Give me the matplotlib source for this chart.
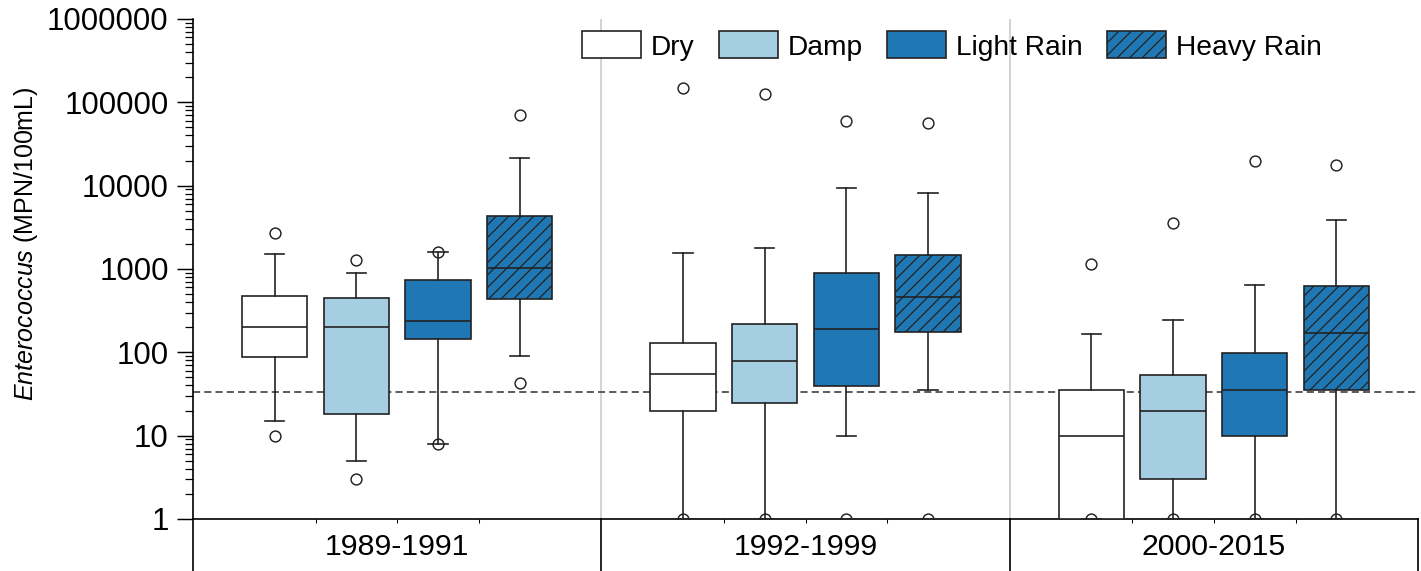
import matplotlib
matplotlib.use("Agg")
import matplotlib.pyplot as plt
from matplotlib.patches import Patch
from matplotlib.ticker import LogLocator, FuncFormatter, FixedLocator, NullFormatter
import matplotlib.transforms as mtransforms

# ── DATA (MPN/100mL) ──────────────────────────────────────

periods = ["1989-1991", "1992-1999", "2000-2015"]
conditions = ["Dry", "Damp", "Light Rain", "Heavy Rain"]

# one row per period, one column per condition
whisker_low = [[15, 5, 8, 90], [1, 1, 10, 35], [1, 1, 1, 1]]
q1 = [[88, 18, 143, 433], [20, 25, 39, 177], [1, 3, 10, 35]]
median = [[203, 200, 238, 1020], [55, 79, 190, 458], [10, 20, 35, 170]]
q3 = [[470, 453, 738, 4360], [131, 217, 888, 1485], [35, 54, 99, 630]]
whisker_high = [[1500, 890, 1600, 21500], [1540, 1800, 9400, 8100], [165, 244, 650, 3900]]
outliers = [
    [[10, 2700], [3, 1270], [8, 1600], [43, 70500]],
    [[1, 150000], [1, 126000], [1, 60000], [1, 56000]],
    [[1, 1150], [1, 3600], [1, 20000], [1, 17700]],
]

standard = 33  # dashed reference line

# ── STYLE ─────────────────────────────────────────────────

face_colors = ["white", "#a6cee3", "#1f78b4", "#1f78b4"]
hatches = [None, None, None, "////"]
edge = "#222222"

plt.rcParams["font.family"] = ["Liberation Sans", "DejaVu Sans"]
plt.rcParams["mathtext.fontset"] = "custom"
plt.rcParams["mathtext.it"] = "Liberation Sans:italic"
plt.rcParams["mathtext.rm"] = "Liberation Sans"
plt.rcParams["hatch.linewidth"] = 0.6

# ── BUILD BOX STATS ───────────────────────────────────────

n_cond = len(conditions)
group_w = n_cond + 1
stats, positions = [], []
for g in range(len(periods)):
    for c in range(n_cond):
        stats.append(dict(
            whislo=whisker_low[g][c], q1=q1[g][c], med=median[g][c],
            q3=q3[g][c], whishi=whisker_high[g][c], fliers=outliers[g][c],
        ))
        positions.append(g * group_w + c + 1)

# ── PLOT ──────────────────────────────────────────────────

fig = plt.figure(figsize=(1421 / 150, 571 / 150), dpi=150)
ax = fig.add_axes([193 / 1421, 52 / 571, 1225 / 1421, 500 / 571])

lw = 0.8
bp = ax.bxp(
    stats, positions=positions, widths=0.8, capwidths=0.24, patch_artist=True,
    boxprops=dict(edgecolor=edge, linewidth=lw),
    whiskerprops=dict(color=edge, linewidth=lw),
    capprops=dict(color=edge, linewidth=lw),
    medianprops=dict(color=edge, linewidth=lw),
    flierprops=dict(marker="o", markersize=5.2, markerfacecolor="none",
                    markeredgecolor=edge, markeredgewidth=0.7),
    zorder=3,
)
for i, box in enumerate(bp["boxes"]):
    c = i % n_cond
    box.set_facecolor(face_colors[c])
    if hatches[c]:
        box.set_hatch(hatches[c])

# group separators
n_groups = len(periods)
for g in range(1, n_groups):
    ax.axvline(g * group_w, color="#cccccc", linewidth=0.8, zorder=1)

ax.axhline(standard, color="#555555", linewidth=0.9, linestyle=(0, (3.8, 2.2)), zorder=2)

ax.set_yscale("log")
ax.set_ylim(1, 1e6)
ax.set_xlim(0, n_groups * group_w)

ax.yaxis.set_major_locator(LogLocator(base=10, numticks=10))
ax.yaxis.set_minor_locator(LogLocator(base=10, subs=range(2, 10), numticks=20))
ax.yaxis.set_major_formatter(FuncFormatter(lambda v, p: f"{v:.0f}"))
ax.yaxis.set_minor_formatter(NullFormatter())
ax.tick_params(axis="y", which="major", length=7.7, width=0.7, labelsize=15, pad=4)
ax.tick_params(axis="y", which="minor", length=3.9, width=0.6)

# small ticks between boxes, no major x labels
between = [g * group_w + c + 1.5 for g in range(n_groups) for c in range(n_cond - 1)]
ax.xaxis.set_major_locator(FixedLocator(between))
ax.xaxis.set_major_formatter(NullFormatter())
ax.tick_params(axis="x", which="major", length=2, width=0.5)

for side in ["top", "right"]:
    ax.spines[side].set_visible(False)
for side in ["left", "bottom"]:
    ax.spines[side].set_linewidth(0.8)
    ax.spines[side].set_color("black")

# ── PERIOD LABEL CELLS BELOW AXIS ─────────────────────────

trans = mtransforms.blended_transform_factory(ax.transData, ax.transAxes)
for g in range(n_groups + 1):
    ax.plot([g * group_w, g * group_w], [0, -0.2], color="black", linewidth=0.8,
            transform=trans, clip_on=False)
for g, label in enumerate(periods):
    ax.text(g * group_w + group_w / 2, -0.056, label, transform=trans,
            ha="center", va="center", fontsize=14.5)

ax.set_ylabel(r"$\mathit{Enterococcus}$ (MPN/100mL)", fontsize=12)
ax.yaxis.set_label_coords(-0.125, 0.55)

# ── LEGEND ────────────────────────────────────────────────

handles = [Patch(facecolor=face_colors[c], edgecolor=edge, linewidth=lw,
                 hatch=hatches[c], label=conditions[c]) for c in range(n_cond)]
fig.legend(handles=handles, loc="center left", bbox_to_anchor=(582 / 1421, 1 - 46 / 571),
           ncol=n_cond, frameon=False, fontsize=13.5, handlelength=2.1, handleheight=1.1,
           handletextpad=0.36, columnspacing=0.85, borderpad=0, borderaxespad=0)

fig.savefig("out.png", dpi=150)
